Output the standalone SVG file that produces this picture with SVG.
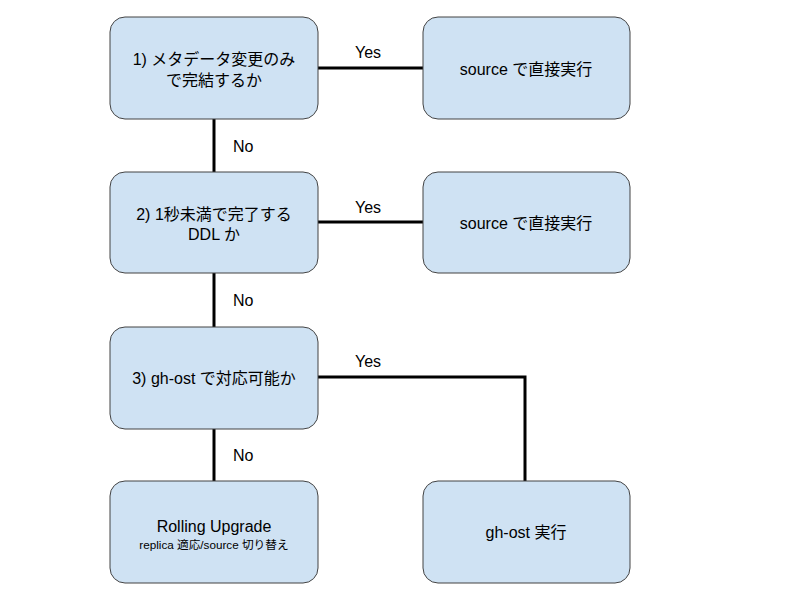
<svg xmlns="http://www.w3.org/2000/svg" width="800" height="600" viewBox="0 0 800 600">
<style>
.box{fill:#cfe2f3;stroke:#434343;stroke-width:1}
.t{font-family:"Liberation Sans","Noto Sans CJK JP",sans-serif;font-size:16px;fill:#000;text-anchor:middle}
.s{font-size:11.7px}
.lbl{font-family:"Liberation Sans",sans-serif;font-size:16px;fill:#000}
.c{stroke:#000;stroke-width:3;fill:none}
</style>
<rect width="800" height="600" fill="#fff"/>
<g id="connectors">
<line class="c" x1="318" y1="68" x2="423" y2="68"/>
<line class="c" x1="318" y1="222" x2="423" y2="222"/>
<line class="c" x1="214" y1="119" x2="214" y2="172"/>
<line class="c" x1="214" y1="273" x2="214" y2="327"/>
<line class="c" x1="214" y1="429" x2="214" y2="481"/>
<polyline class="c" points="318,377 525,377 525,481"/>
<text class="lbl" x="355" y="58">Yes</text>
<text class="lbl" x="355" y="213">Yes</text>
<text class="lbl" x="355" y="367">Yes</text>
<text class="lbl" x="233" y="152">No</text>
<text class="lbl" x="233" y="306">No</text>
<text class="lbl" x="233" y="461">No</text>
</g>
<g id="n1"><rect class="box" x="110" y="17" width="208" height="102" rx="15"/>
<text class="t" x="214" y="65">1) メタデータ変更のみ</text><text class="t" x="214" y="86">で完結するか</text></g>
<g id="s1"><rect class="box" x="423" y="17" width="207" height="102" rx="15"/>
<text class="t" x="526" y="75">source で直接実行</text></g>
<g id="n2"><rect class="box" x="110" y="172" width="208" height="101" rx="15"/>
<text class="t" x="214" y="220">2) 1秒未満で完了する</text><text class="t" x="214" y="240">DDL か</text></g>
<g id="s2"><rect class="box" x="423" y="172" width="207" height="101" rx="15"/>
<text class="t" x="526" y="229">source で直接実行</text></g>
<g id="n3"><rect class="box" x="110" y="327" width="208" height="102" rx="15"/>
<text class="t" x="214" y="384">3) gh-ost で対応可能か</text></g>
<g id="n4"><rect class="box" x="110" y="481" width="208" height="102" rx="15"/>
<text class="t" x="214" y="532">Rolling Upgrade</text><text class="t s" x="214" y="549">replica 適応/source 切り替え</text></g>
<g id="s3"><rect class="box" x="423" y="481" width="207" height="102" rx="15"/>
<text class="t" x="526" y="538">gh-ost 実行</text></g>
</svg>
